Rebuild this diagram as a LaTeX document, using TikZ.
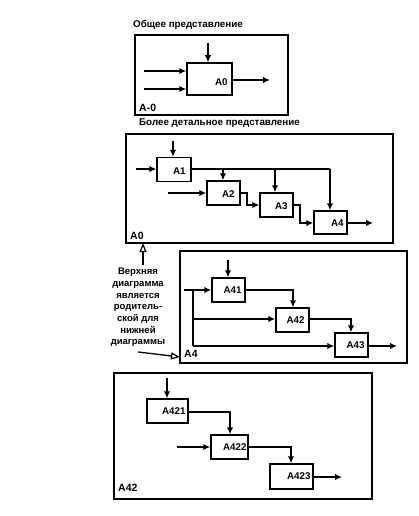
\documentclass[tikz,border=0pt]{standalone}
\usepackage{fontspec}
\setmainfont{Liberation Sans}
\usetikzlibrary{arrows.meta,calc}
\tikzset{
  frame/.style={draw, line width=1.6pt, inner sep=0pt},
  blk/.style={draw, line width=1.5pt, inner sep=0pt, fill=white},
  lbl/.style={font=\bfseries\fontsize{9.8}{11}\selectfont, inner sep=0pt},
  flbl/.style={font=\bfseries\fontsize{10.5}{12}\selectfont, inner sep=0pt, anchor=south west},
  ttl/.style={font=\bfseries\fontsize{9.8}{11}\selectfont, inner sep=0pt, anchor=west},
  flow/.style={line width=1.5pt, -{Latex[length=7pt,width=6.5pt]}},
  hollow/.style={line width=1.3pt, -{Triangle[open,length=9pt,width=7pt,line width=1.2pt]}}
}
\begin{document}
\begin{tikzpicture}[x=1pt,y=-1pt]
\useasboundingbox (0,0) rectangle (419,516);
% ---------- A-0 ----------
\node[ttl] (t1) at (133,25) {Общее представление};
\draw[frame] (135,35) rectangle (288,115);
\node[flbl] (fa0) at (139,112) {A-0};
\node[blk, minimum width=45, minimum height=32] (a0) at (209.5,79) {};
\node[lbl, anchor=east] at ([xshift=-5pt,yshift=-3pt]a0.east) {A0};
\coordinate (a0c) at (208,43);
\coordinate (a0i1) at (144,71);
\coordinate (a0i2) at (144,89);
\coordinate (a0o) at (270,80);
\draw[flow] (a0c) -- (a0c |- a0.north);
\draw[flow] (a0i1) -- (a0i1 -| a0.west);
\draw[flow] (a0i2) -- (a0i2 -| a0.west);
\draw[flow] (a0.east |- a0o) -- (a0o);
% ---------- A0 ----------
\node[ttl] (t2) at (139,123) {Более детальное представление};
\draw[frame] (126,134) rectangle (393,243);
\node[flbl] (fa0b) at (130,240) {A0};
\node[blk, minimum width=34, minimum height=24] (a1) at (174,169.5) {};
\node[blk, minimum width=33, minimum height=24] (a2) at (223.5,193) {};
\node[blk, minimum width=33, minimum height=24] (a3) at (276.5,205) {};
\node[blk, minimum width=33, minimum height=23] (a4) at (330.5,222.5) {};
\node[lbl, anchor=east] at ([xshift=-6pt,yshift=-1.5pt]a1.east) {A1};
\node[lbl, anchor=east] at ([xshift=-6pt,yshift=-1pt]a2.east) {A2};
\node[lbl, anchor=east] at ([xshift=-6pt,yshift=-1pt]a3.east) {A3};
\node[lbl, anchor=east] at ([xshift=-4pt,yshift=-1pt]a4.east) {A4};
\coordinate (a1c) at (173,141);
\coordinate (a1i) at (136,169);
\coordinate (a2i) at (168,193);
\coordinate (a4o) at (373,223);
\coordinate (j4) at (330,169);
\coordinate (j2) at (223,169);
\coordinate (j3) at (275,169);
\draw[flow] (a1c) -- (a1c |- a1.north);
\draw[flow] (a1i) -- (a1i -| a1.west);
\draw[flow] (a2i) -- (a2i -| a2.west);
\draw[line width=1.5pt] (a1.east |- j4) -- (j4);
\draw[flow] (j4) -- (j4 |- a4.north);
\draw[flow] (j2) -- (j2 |- a2.north);
\draw[flow] (j3) -- (j3 |- a3.north);
\draw[flow] (a2.east |- 0,193) -- (247,193) -- (247,205) -- (a3.west |- 0,205);
\draw[flow] (a3.east |- 0,205) -- (300,205) -- (300,223) -- (a4.west |- 0,223);
\draw[flow] (a4.east |- a4o) -- (a4o);
% ---------- note ----------
\node[font=\bfseries\fontsize{9.5}{11.7}\selectfont, align=center, inner sep=0pt, anchor=north] (note) at (138,268)
  {Верхняя\\диаграмма\\является\\родитель-\\ской для\\нижней\\диаграммы};
\coordinate (up1) at (143,265);
\coordinate (up2) at (143,243);
\draw[hollow] (up1) -- (up2);
\coordinate (n1) at (138,352);
\coordinate (n2) at (180,357);
\draw[hollow] (n1) -- (n2);
% ---------- A4 ----------
\draw[frame] (180,251) rectangle (407,363);
\node[flbl] (fa4) at (184,358) {A4};
\node[blk, minimum width=33, minimum height=24] (a41) at (228.5,290) {};
\node[blk, minimum width=33, minimum height=24] (a42) at (292.5,320) {};
\node[blk, minimum width=33, minimum height=24] (a43) at (351.5,345) {};
\node[lbl, anchor=east] at ([xshift=-4pt]a41.east) {A41};
\node[lbl, anchor=east] at ([xshift=-5pt]a42.east) {A42};
\node[lbl, anchor=east] at ([xshift=-4pt]a43.east) {A43};
\coordinate (a41c) at (228,260);
\coordinate (a41i) at (184,290);
\coordinate (a43o) at (397,346);
\coordinate (b1) at (193,290);
\coordinate (b2) at (193,319);
\coordinate (b3) at (193,346);
\coordinate (k2) at (293,290);
\coordinate (k3) at (351,319);
\draw[flow] (a41c) -- (a41c |- a41.north);
\draw[flow] (a41i) -- (a41i -| a41.west);
\draw[line width=1.5pt] (b1) -- (b3);
\draw[flow] (b2) -- (b2 -| a42.west);
\draw[flow] (b3) -- (b3 -| a43.west);
\draw[flow] (a41.east |- k2) -- (k2) -- (k2 |- a42.north);
\draw[flow] (a42.east |- k3) -- (k3) -- (k3 |- a43.north);
\draw[flow] (a43.east |- a43o) -- (a43o);
% ---------- A42 ----------
\draw[frame] (114,373) rectangle (372,499);
\node[flbl] (fa42) at (118,492) {A42};
\node[blk, minimum width=41, minimum height=24] (a421) at (167.5,411) {};
\node[blk, minimum width=37, minimum height=24] (a422) at (229.5,447) {};
\node[blk, minimum width=43, minimum height=25] (a423) at (291.5,476.5) {};
\node[lbl, anchor=east] at ([xshift=-3pt]a421.east) {A421};
\node[lbl, anchor=east] at ([xshift=-2pt]a422.east) {A422};
\node[lbl, anchor=east] at ([xshift=-3pt]a423.east) {A423};
\coordinate (a421c) at (167,378);
\coordinate (a422i) at (177,447);
\coordinate (a423o) at (342,477);
\coordinate (m2) at (230,412);
\coordinate (m3) at (291,447);
\draw[flow] (a421c) -- (a421c |- a421.north);
\draw[flow] (a422i) -- (a422i -| a422.west);
\draw[flow] (a421.east |- m2) -- (m2) -- (m2 |- a422.north);
\draw[flow] (a422.east |- m3) -- (m3) -- (m3 |- a423.north);
\draw[flow] (a423.east |- a423o) -- (a423o);
\end{tikzpicture}
\end{document}
